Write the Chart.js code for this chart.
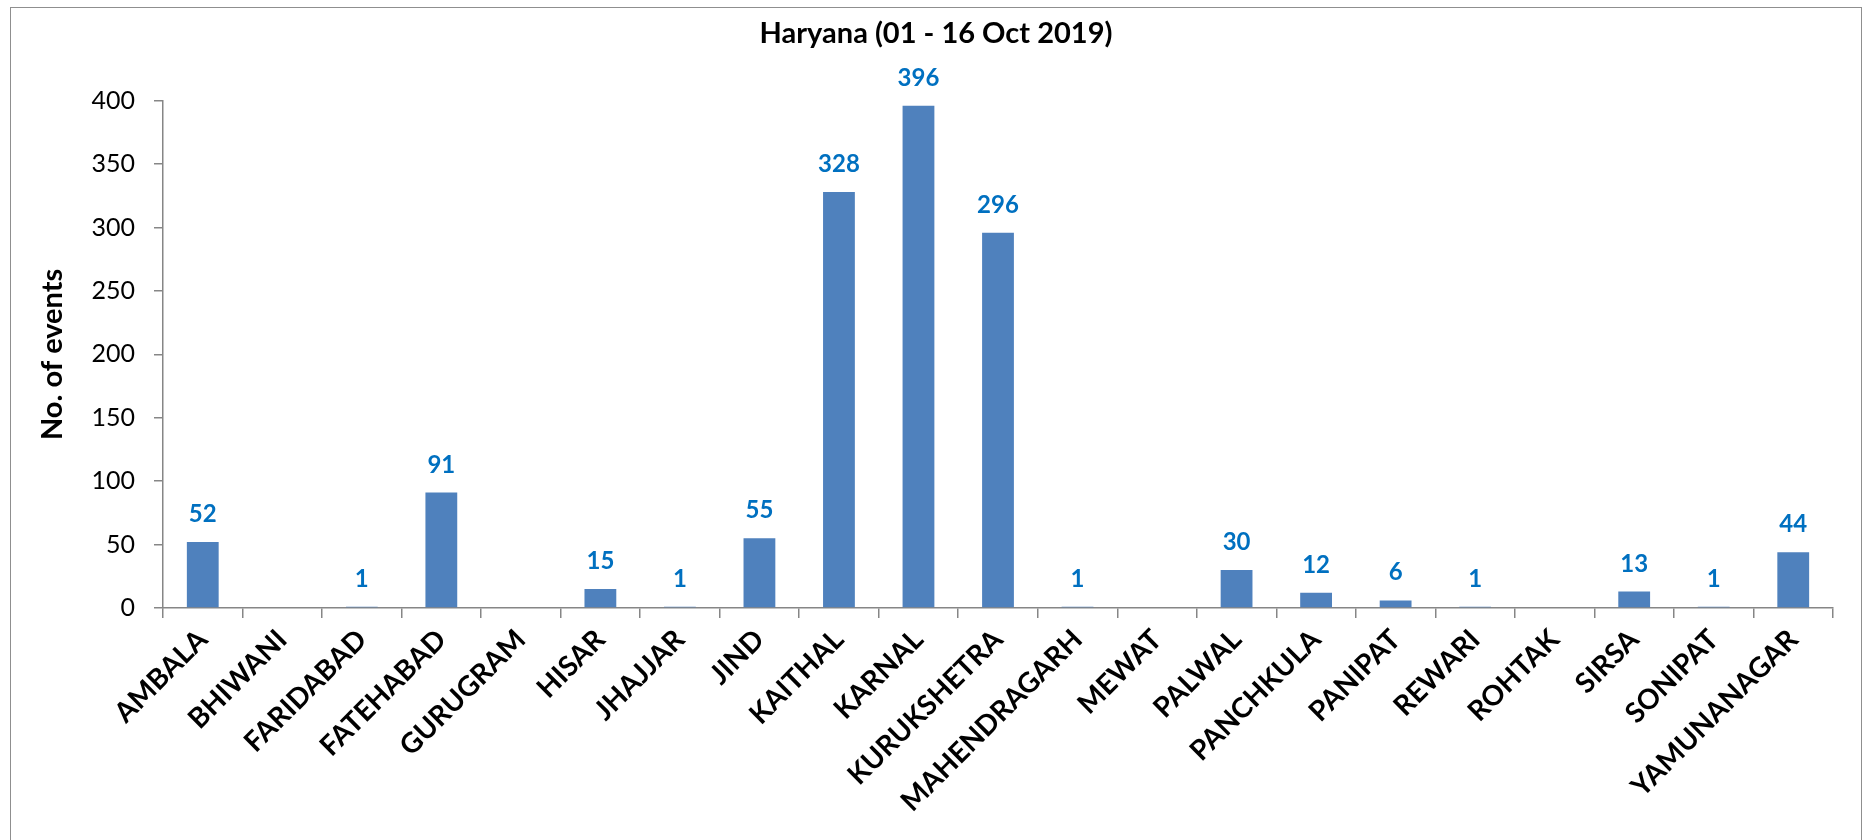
<!DOCTYPE html>
<html>
<head>
<meta charset="utf-8">
<title>Haryana (01 - 16 Oct 2019)</title>
<script src="https://cdn.jsdelivr.net/npm/chart.js@4.4.1/dist/chart.umd.min.js"></script>
<style>
    html, body { margin: 0; padding: 0; background: #fff; overflow: hidden; }
    #wrap { position: relative; width: 1865px; height: 840px; }
    #frame {
        position: absolute; left: 10px; top: 7px; width: 1852px; height: 900px;
        border: 1px solid #8f8f8f; box-sizing: border-box; pointer-events: none;
    }
    canvas { position: absolute; left: 0; top: 0; }
</style>
</head>
<body>
<div id="wrap">
    <canvas id="chart" width="1865" height="840"></canvas>
    <div id="frame"></div>
</div>
<script>
// District names (x axis)
const districts = [
    'AMBALA', 'BHIWANI', 'FARIDABAD', 'FATEHABAD', 'GURUGRAM', 'HISAR', 'JHAJJAR',
    'JIND', 'KAITHAL', 'KARNAL', 'KURUKSHETRA', 'MAHENDRAGARH', 'MEWAT', 'PALWAL',
    'PANCHKULA', 'PANIPAT', 'REWARI', 'ROHTAK', 'SIRSA', 'SONIPAT', 'YAMUNANAGAR'
];

// Number of events per district
const eventCounts = [52, 0, 1, 91, 0, 15, 1, 55, 328, 396, 296, 1, 0, 30, 12, 6, 1, 0, 13, 1, 44];

// Y axis range
const yMin = 0;
const yMax = 400;
const yStep = 50;

const axisGrey = '#868686';
const barBlue = '#4F81BD';
const labelBlue = '#0070C0';

// Value labels above the bars (zeros are left blank)
const valueLabels = {
    id: 'valueLabels',
    afterDatasetsDraw(chart) {
        const ctx = chart.ctx;
        const meta = chart.getDatasetMeta(0);
        ctx.save();
        ctx.font = 'bold 24px Lato';
        ctx.fillStyle = labelBlue;
        ctx.textAlign = 'center';
        ctx.textBaseline = 'alphabetic';
        meta.data.forEach((bar, i) => {
            const v = eventCounts[i];
            if (!v) return;
            ctx.fillText(String(v), bar.x, bar.y - 20);
        });
        ctx.restore();
    }
};

Chart.defaults.animation = false;
Chart.defaults.font.family = 'Lato';
Chart.defaults.color = '#000';

const ctx = document.getElementById('chart').getContext('2d');
new Chart(ctx, {
    type: 'bar',
    data: {
        labels: districts,
        datasets: [{
            label: 'No. of events',
            data: eventCounts,
            backgroundColor: barBlue,
            borderWidth: 0,
            categoryPercentage: 1.0,
            barPercentage: 0.4
        }]
    },
    options: {
        responsive: false,
        // left 7 so the title is centred on the frame
        layout: { padding: { left: 7, right: 0, top: 0, bottom: 0 } },
        plugins: {
            legend: { display: false },
            tooltip: { enabled: false },
            title: {
                display: true,
                text: 'Haryana (01 - 16 Oct 2019)',
                color: '#000',
                font: { size: 29, weight: 'bold' },
                padding: { top: 16, bottom: 50 }
            }
        },
        scales: {
            x: {
                afterFit: scale => { scale.height = 232; },
                grid: {
                    drawOnChartArea: false,
                    color: axisGrey,
                    lineWidth: 1.5,
                    tickLength: 10
                },
                border: { color: axisGrey, width: 1.5 },
                ticks: {
                    autoSkip: false,
                    minRotation: 45,
                    maxRotation: 45,
                    padding: 5,
                    color: '#000',
                    font: { size: 28, weight: 'bold' }
                }
            },
            y: {
                min: yMin,
                max: yMax,
                afterFit: scale => { scale.width = 156; },
                title: {
                    display: true,
                    text: 'No. of events',
                    color: '#000',
                    font: { size: 29, weight: 'bold' },
                    padding: { top: 28, bottom: 0 }
                },
                grid: {
                    drawOnChartArea: false,
                    color: axisGrey,
                    lineWidth: 1.5,
                    tickLength: 9
                },
                border: { color: axisGrey, width: 1.5 },
                ticks: {
                    stepSize: yStep,
                    padding: 19,
                    color: '#000',
                    font: { size: 25 }
                }
            },
            // empty right-hand spacer so the plot ends where the reference does
            yRight: {
                position: 'right',
                min: yMin,
                max: yMax,
                afterFit: scale => { scale.width = 32; },
                grid: { display: false },
                border: { display: false },
                ticks: { display: false }
            }
        }
    },
    plugins: [valueLabels]
});
</script>
</body>
</html>
